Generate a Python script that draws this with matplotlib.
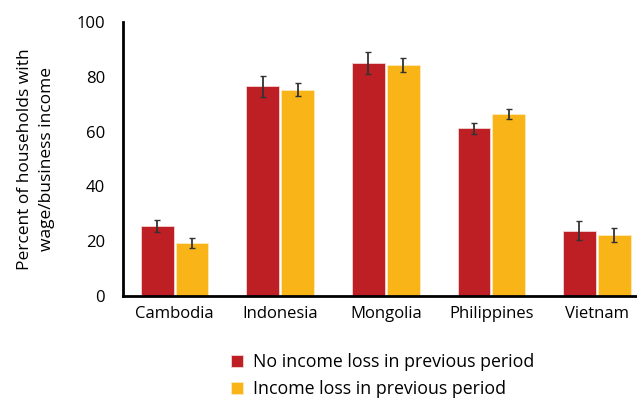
import numpy as np
import matplotlib.pyplot as plt

countries = ['Cambodia', 'Indonesia', 'Mongolia', 'Philippines', 'Vietnam']
no_loss = [25.6, 76.5, 85.1, 61.2, 23.9]
no_loss_err = [2.2, 3.9, 3.9, 1.9, 3.5]
loss = [19.4, 75.3, 84.3, 66.5, 22.2]
loss_err = [1.8, 2.4, 2.5, 1.8, 2.5]
series_names = ['No income loss in previous period', 'Income loss in previous period']

plt.rcParams['font.family'] = ['Open Sans', 'DejaVu Sans']

fig = plt.figure(figsize=(6.37, 4.01), dpi=100)
ax = fig.add_axes([123 / 637, 1 - 296 / 401, 514 / 637, 274 / 401])

x = np.arange(len(countries))
w = 0.31
ax.bar(x - w / 2 - 0.01, no_loss, w, color='#BD1F25', edgecolor='#F3D5D6', linewidth=0.6,
       yerr=no_loss_err, error_kw=dict(ecolor='#333333', elinewidth=1.3, capsize=2, capthick=1),
       label=series_names[0])
ax.bar(x + w / 2 + 0.01, loss, w, color='#F9B418', edgecolor='#FDE9BA', linewidth=0.6,
       yerr=loss_err, error_kw=dict(ecolor='#333333', elinewidth=1.3, capsize=2, capthick=1),
       label=series_names[1])

ax.set_xlim(-0.49, 4.38)
ax.set_ylim(0, 100)
ax.set_yticks([0, 20, 40, 60, 80, 100])
ax.set_xticks(x)
ax.set_xticklabels(countries)
ax.tick_params(axis='both', length=0, labelsize=12, colors='black')
ax.tick_params(axis='y', pad=13)
ax.tick_params(axis='x', pad=7.5)
for s in ['top', 'right']:
    ax.spines[s].set_visible(False)
for s in ['left', 'bottom']:
    ax.spines[s].set_linewidth(2)
ax.set_ylabel('Percent of households with\nwage/business income', fontsize=12.5,
              labelpad=15, linespacing=1.55)

fig.legend(loc='center left', bbox_to_anchor=(231 / 637, 0.0636), frameon=False, fontsize=12.8,
           borderpad=0, borderaxespad=0, handlelength=0.67, handleheight=0.67,
           handletextpad=0.55, labelspacing=0.5)

fig.savefig('out.png', dpi=100)
